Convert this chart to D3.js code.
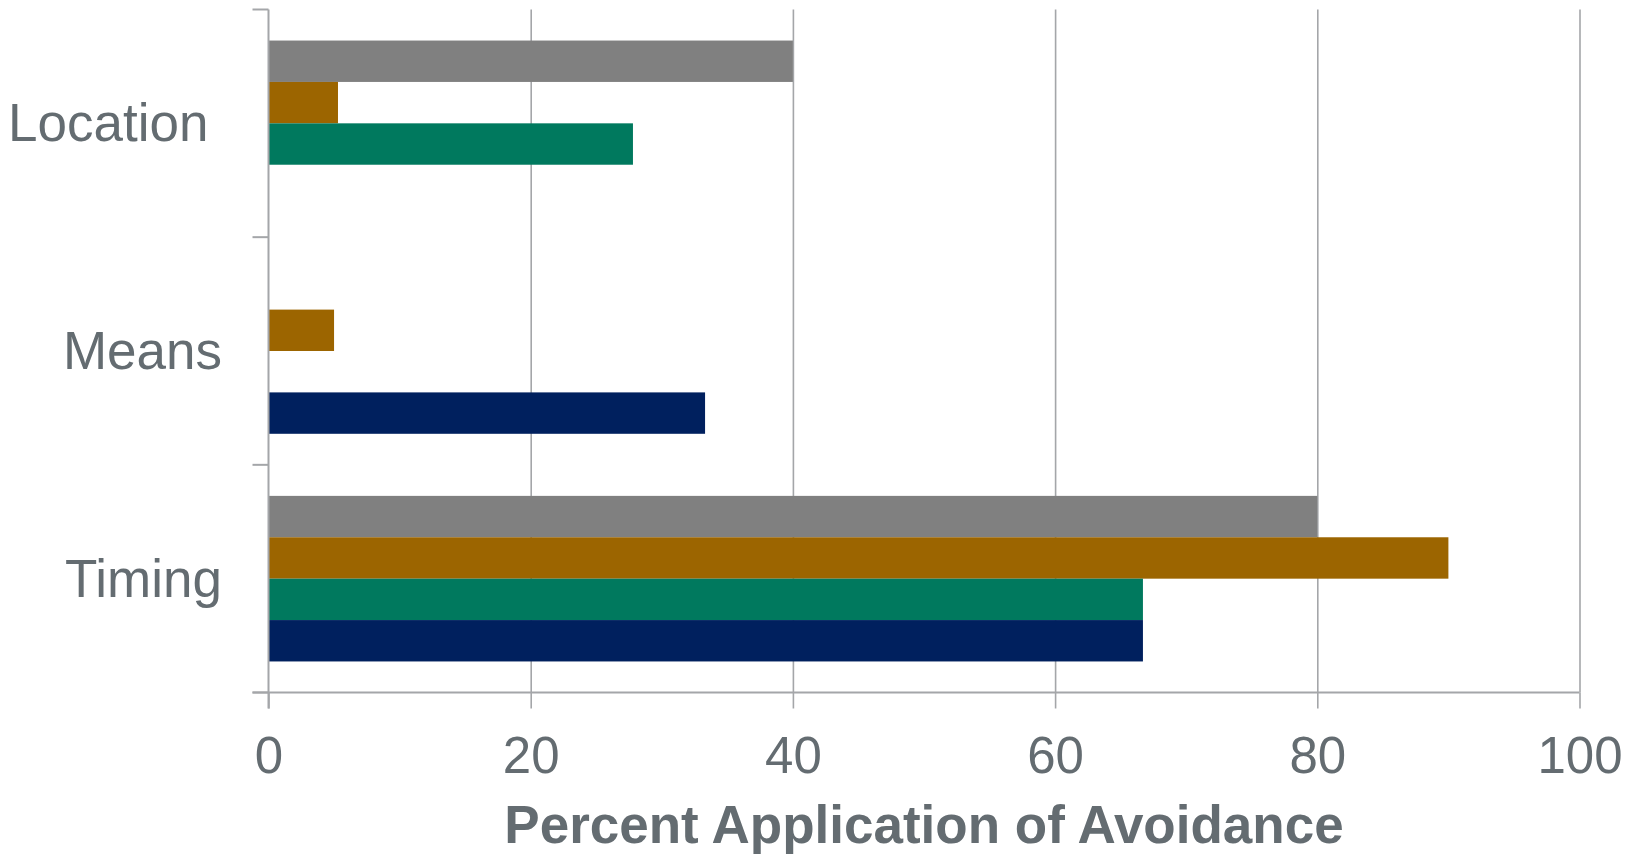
<!DOCTYPE html>
<html>
<head>
<meta charset="utf-8">
<script src="https://cdn.jsdelivr.net/npm/d3@7/dist/d3.min.js"></script>
<style>
  html, body { margin: 0; padding: 0; background: #ffffff; }
  svg { display: block; }
</style>
</head>
<body>
<svg id="chart" width="1632" height="858"></svg>
<script>
// Avoidance categories, top to bottom
const categories = ["Location", "Means", "Timing"];

// Series drawn inside each category, top to bottom
const seriesKeys = ["gray", "orange", "green", "navy"];
const seriesColors = ["#808080", "#9C6500", "#00795E", "#00205E"];

// Percent values per series, in the order of `categories`
const grayValues   = [40, 0, 80];
const orangeValues = [5.3, 5, 90];
const greenValues  = [27.8, 0, 66.7];
const navyValues   = [0, 33.3, 66.7];

// X axis ticks
const xTicks = [0, 20, 40, 60, 80, 100];
const xTitle = "Percent Application of Avoidance";

const valuesByKey = {
  gray: grayValues,
  orange: orangeValues,
  green: greenValues,
  navy: navyValues
};

const rows = [];
categories.forEach((cat, i) => {
  seriesKeys.forEach((key, j) => {
    rows.push({ category: cat, key: key, value: valuesByKey[key][i], color: seriesColors[j] });
  });
});

const svg = d3.select("#chart");
const textColor = "#646C71";
const lineColor = "#A4A6A9";

const plot = { left: 268.5, right: 1579.5, top: 9.5, bottom: 692.5 };
const tickLen = 16;

const x = d3.scaleLinear().domain([0, 100]).range([plot.left, plot.right]);
const y = d3.scaleBand().domain(categories).range([plot.top, plot.bottom]).paddingInner(0).paddingOuter(0);
const ySub = d3.scaleBand().domain(seriesKeys).range([0, y.bandwidth()]).paddingInner(0).paddingOuter(0.75);

// Vertical gridlines
svg.append("g")
  .attr("transform", `translate(0,${plot.bottom})`)
  .call(d3.axisBottom(x).tickValues(xTicks.filter(d => d > 0)).tickSize(-(plot.bottom - plot.top)).tickFormat(""))
  .call(g => g.select(".domain").remove())
  .call(g => g.selectAll("line").attr("stroke", lineColor).attr("stroke-width", 1.6));

// Bars
svg.append("g")
  .selectAll("rect")
  .data(rows.filter(d => d.value > 0))
  .join("rect")
  .attr("x", x(0))
  .attr("y", d => y(d.category) + ySub(d.key))
  .attr("width", d => x(d.value) - x(0))
  .attr("height", ySub.bandwidth())
  .attr("fill", d => d.color);

// X axis: baseline, ticks below, labels
const xAxis = svg.append("g")
  .attr("transform", `translate(0,${plot.bottom})`)
  .call(d3.axisBottom(x).tickValues(xTicks).tickSize(tickLen).tickSizeOuter(0).tickFormat(d3.format("d")));
xAxis.select(".domain").remove();
xAxis.selectAll("line").attr("stroke", lineColor).attr("stroke-width", 1.6);
xAxis.selectAll("text")
  .attr("y", 80)
  .attr("dy", null)
  .attr("fill", textColor)
  .style("font-family", "'Liberation Sans', Arial, sans-serif")
  .style("font-size", "51px");
svg.append("line")
  .attr("x1", plot.left - tickLen).attr("x2", plot.right)
  .attr("y1", plot.bottom).attr("y2", plot.bottom)
  .attr("stroke", lineColor).attr("stroke-width", 2);

// Y axis: line with ticks at category boundaries
const boundaries = categories.map(c => y(c)).concat([y.range()[1]]);
svg.append("line")
  .attr("x1", plot.left).attr("x2", plot.left)
  .attr("y1", plot.top).attr("y2", plot.bottom + tickLen)
  .attr("stroke", lineColor).attr("stroke-width", 2);
svg.append("g")
  .selectAll("line")
  .data(boundaries)
  .join("line")
  .attr("x1", plot.left - tickLen).attr("x2", plot.left)
  .attr("y1", d => d).attr("y2", d => d)
  .attr("stroke", lineColor).attr("stroke-width", 2);

// Category labels: right-aligned next to the axis; a label too wide for
// the label column is left-aligned against the page edge instead
const labelRight = 222;
const labelLeft = 8;
const labelColumnWidth = 190;
svg.append("g")
  .selectAll("text")
  .data(categories)
  .join("text")
  .attr("x", labelRight)
  .attr("y", d => y(d) + y.bandwidth() / 2 + 18)
  .attr("text-anchor", "end")
  .attr("fill", textColor)
  .style("font-family", "'Liberation Sans', Arial, sans-serif")
  .style("font-size", "53px")
  .text(d => d)
  .each(function () {
    if (this.getComputedTextLength() > labelColumnWidth) {
      d3.select(this).attr("text-anchor", "start").attr("x", labelLeft);
    }
  });

// X axis title
svg.append("text")
  .attr("x", (plot.left + plot.right) / 2)
  .attr("y", 843)
  .attr("text-anchor", "middle")
  .attr("fill", textColor)
  .style("font-family", "'Liberation Sans', Arial, sans-serif")
  .style("font-size", "53px")
  .style("font-weight", "bold")
  .text(xTitle);
</script>
</body>
</html>
